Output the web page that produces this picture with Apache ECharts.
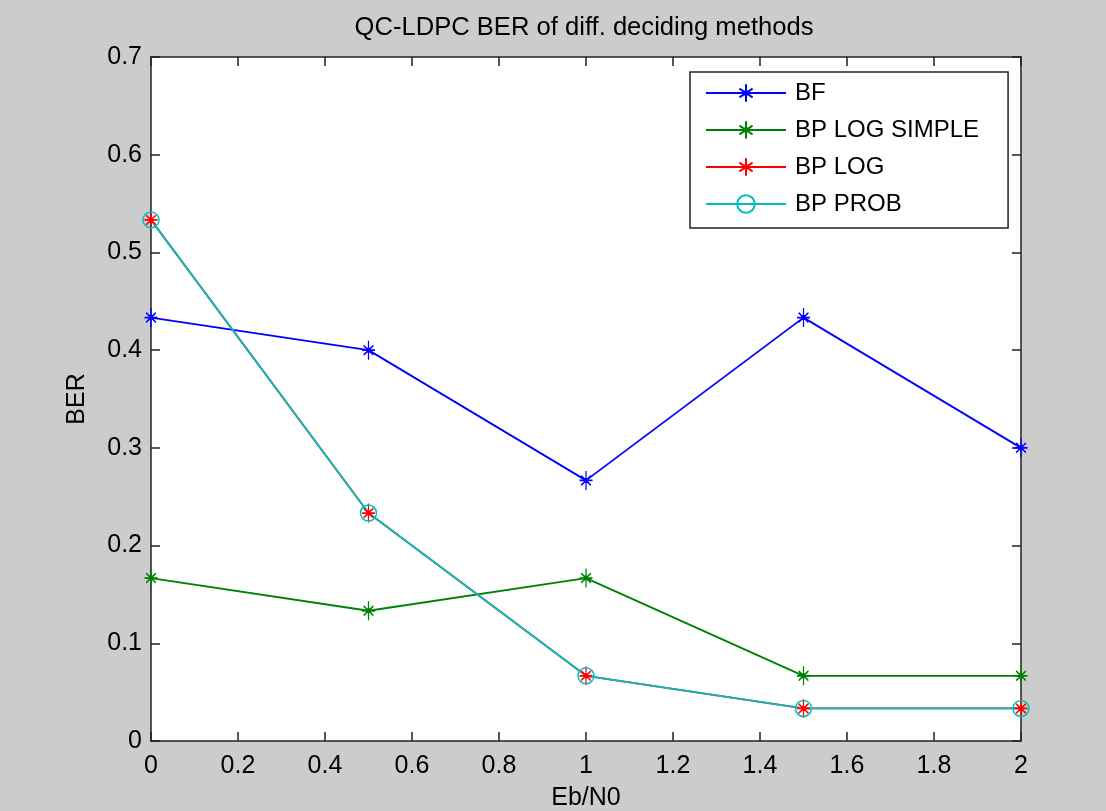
<!DOCTYPE html>
<html>
<head>
<meta charset="utf-8">
<script src="https://cdn.jsdelivr.net/npm/echarts@6/dist/echarts.min.js"></script>
<style>
  html, body { margin: 0; padding: 0; background: #cccccc; }
  #chart { width: 1106px; height: 811px; }
</style>
</head>
<body>
<div id="chart"></div>
<script>
// QC-LDPC 误码率曲线

// 横轴 Eb/N0
var ebN0 = [0, 0.5, 1, 1.5, 2];

// 各译码方法的BER
var berBF = [0.4333, 0.4, 0.2667, 0.4333, 0.3];
var berBPLogSimple = [0.1667, 0.1333, 0.1667, 0.0667, 0.0667];
var berBPLog = [0.5333, 0.2333, 0.0667, 0.0333, 0.0333];
var berBPProb = [0.5333, 0.2333, 0.0667, 0.0333, 0.0333];

var seriesNames = ['BF', 'BP LOG SIMPLE', 'BP LOG', 'BP PROB'];

var FONT = '"Liberation Sans", Arial, sans-serif';
var AXIS_COLOR = '#222';

// MATLAB风格的 * 标记
var STAR = 'path://M0,-9L0,9M-6,0L6,0M-4.5,-4.5L4.5,4.5M-4.5,4.5L4.5,-4.5M-1.5,-1.5L1.5,-1.5L1.5,1.5L-1.5,1.5Z';

function pairs(ys) {
    return ebN0.map(function (x, i) { return [x, ys[i]]; });
}

function starSeries(name, ys, color) {
    return {
        name: name,
        type: 'line',
        data: pairs(ys),
        symbol: STAR,
        symbolSize: [13, 19],
        lineStyle: { color: color, width: 1.8 },
        itemStyle: { color: color, borderColor: color, borderWidth: 1.5 },
        emphasis: { disabled: true }
    };
}

var chart = echarts.init(document.getElementById('chart'));

var baseAxis = {
    type: 'value',
    splitLine: { show: false },
    axisLine: { show: true, onZero: false, lineStyle: { color: AXIS_COLOR, width: 1.5 } },
    axisTick: { show: true, inside: true, length: 9, lineStyle: { color: AXIS_COLOR, width: 1.5 } }
};

var option = {
    backgroundColor: '#cccccc',
    animation: false,
    textStyle: { fontFamily: FONT },
    graphic: [{
        type: 'text',
        x: 584,
        y: 28,
        style: {
            text: 'QC-LDPC BER of diff. deciding methods',
            font: '25.6px ' + FONT,
            fill: '#000',
            align: 'center',
            verticalAlign: 'middle'
        }
    }],
    grid: {
        left: 151,
        top: 57,
        width: 870,
        height: 684,
        outerBoundsMode: 'none',
        containLabel: false,
        show: true,
        backgroundColor: '#fff',
        borderWidth: 0
    },
    legend: {
        data: seriesNames,
        orient: 'vertical',
        left: 690,
        top: 72,
        padding: [8, 29, 11, 15],
        itemWidth: 80,
        itemHeight: 22,
        itemGap: 11,
        selectedMode: false,
        backgroundColor: '#fff',
        borderColor: AXIS_COLOR,
        borderWidth: 1.5,
        textStyle: { fontSize: 24, color: '#000', lineHeight: 26, fontFamily: FONT, padding: [0, 0, 0, 4] }
    },
    xAxis: [
        Object.assign({}, baseAxis, {
            position: 'bottom',
            min: 0,
            max: 2,
            interval: 0.2,
            name: 'Eb/N0',
            nameLocation: 'middle',
            nameGap: 45,
            nameTextStyle: { fontSize: 25, color: '#000' },
            axisLabel: { fontSize: 25, color: '#000', margin: 13 }
        }),
        Object.assign({}, baseAxis, {
            position: 'top',
            min: 0,
            max: 2,
            interval: 0.2,
            axisLabel: { show: false }
        })
    ],
    yAxis: [
        Object.assign({}, baseAxis, {
            position: 'left',
            min: 0,
            max: 0.7,
            interval: 0.1,
            name: 'BER',
            nameLocation: 'middle',
            nameGap: 61,
            nameTextStyle: { fontSize: 25, color: '#000' },
            axisLabel: { fontSize: 25, color: '#000', margin: 9 }
        }),
        Object.assign({}, baseAxis, {
            position: 'right',
            min: 0,
            max: 0.7,
            interval: 0.1,
            axisLabel: { show: false }
        })
    ],
    series: [
        starSeries('BF', berBF, '#0000ff'),
        starSeries('BP LOG SIMPLE', berBPLogSimple, '#008000'),
        starSeries('BP LOG', berBPLog, '#ff0000'),
        {
            name: 'BP PROB',
            type: 'line',
            data: pairs(berBPProb),
            symbol: 'circle',
            symbolSize: 16,
            lineStyle: { color: '#00bfbf', width: 1.8 },
            itemStyle: { color: 'rgba(0,0,0,0)', borderColor: '#00bfbf', borderWidth: 1.5 },
            emphasis: { disabled: true }
        }
    ]
};

chart.setOption(option);
</script>
</body>
</html>
